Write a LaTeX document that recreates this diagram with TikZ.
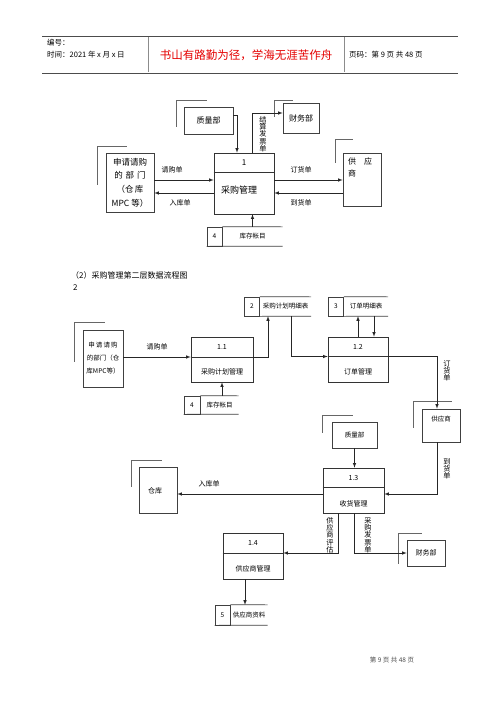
\documentclass[tikz,border=0pt]{standalone}
\usepackage{fontspec}
\setmainfont{Noto Sans CJK SC}
\usetikzlibrary{positioning}
\tikzset{>=latex}
\tikzset{
  ent/.style={draw=black!75, line width=0.6pt, inner sep=0pt, align=center},
  proc/.style={draw=black!80, line width=0.6pt, inner sep=0pt},
  divl/.style={draw=black!80, line width=0.6pt},
  brk/.style={draw=black!60, line width=0.5pt},
  numbox/.style={draw=black!75, line width=0.6pt, inner sep=0pt, minimum width=15, minimum height=19, font=\fontsize{6.5}{7}\selectfont},
  stxt/.style={inner sep=0pt, minimum height=19, font=\fontsize{6.5}{7}\selectfont},
  sline/.style={draw=black!75, line width=0.6pt},
  flow/.style={->, draw=black!85, line width=0.6pt},
  lbl/.style={inner sep=0pt, font=\fontsize{7}{8}\selectfont},
  vlbl/.style={inner sep=0pt, align=center, font=\fontsize{7.2}{7.3}\selectfont},
  hdr/.style={draw=black!70, line width=0.7pt}
}
\begin{document}
\begin{tikzpicture}[x=1pt, y=-1pt]
\fill[white] (0,0) rectangle (500,707);
\useasboundingbox (0,0) rectangle (500,707);

% header
\draw[hdr] (42,36) -- (458,36);
\draw[hdr] (42,73) -- (458,73);
\draw[draw=black!45, line width=0.6pt] (148,37) -- (148,72);
\draw[draw=black!45, line width=0.6pt] (344,37) -- (344,72);
\node[anchor=west, inner sep=0pt, font=\fontsize{7.5}{8}\selectfont] (h1) at (47,43) {编号：};
\node[anchor=west, inner sep=0pt, font=\fontsize{7.5}{8}\selectfont] (h2) at (47,55) {时间：2021 年 x 月 x 日};
\node[inner sep=0pt, text=red!90!black, font=\fontsize{11.5}{12}\selectfont] (h3) at (246,55) {书山有路勤为径，学海无涯苦作舟};
\node[anchor=west, inner sep=0pt, font=\fontsize{7.5}{8}\selectfont] (h4) at (349,55) {页码：第 9 页 共 48 页};

% first level
\node[ent, minimum width=49, minimum height=27, font=\fontsize{8}{9}\selectfont] (qa1) at (208.5,120.5) {质量部};
\draw[brk] ([shift={(-7,20)}]qa1.north west) |- ([shift={(23,-6)}]qa1.north west);
\node[ent, minimum width=36, minimum height=30, font=\fontsize{8}{9}\selectfont] (fin1) at (301,118) {财务部};
\draw[brk] ([shift={(-8,14)}]fin1.north west) |- ([shift={(10,-2)}]fin1.north west);
\node[ent, minimum width=48, minimum height=59, font=\fontsize{8.5}{13.7}\selectfont] (app1) at (130,182.5) {申请请购\\的\,\,部\,\,门\\（仓\,库\\MPC 等）};
\draw[brk] ([shift={(-8,32)}]app1.north west) |- ([shift={(21,-6)}]app1.north west);
\node[ent, minimum width=38, minimum height=53] (sup1) at (362,179.5) {};
\node[anchor=north west, inner sep=0pt, align=left, font=\fontsize{8}{12}\selectfont] (sup1t) at (348,158) {供\hspace{1em}应\\商};
\draw[brk] ([shift={(-7,10)}]sup1.north west) |- ([shift={(10,-13)}]sup1.north west);

\node[proc, minimum width=60, minimum height=61] (p1) at (244,183.5) {};
\draw[divl] (p1.west |- 0,172) -- (p1.east |- 0,172);
\node[inner sep=0pt, font=\fontsize{8}{9}\selectfont] (p1n) at (244,162.5) {1};
\node[inner sep=0pt, font=\fontsize{9}{10}\selectfont] (p1t) at (239,190) {采购管理};

\node[numbox] (s4) at (214.5,236.5) {4};
\node[stxt, minimum width=60, anchor=west] (s4t) at (s4.east) {库存帐目};
\draw[sline] (s4.north east) -- (s4t.north east);
\draw[sline] (s4.south west) -- (s4t.south east);

\draw[flow] ([yshift=2.5]app1.east) -- ([yshift=2.5]app1.east -| p1.west);
\draw[flow] ([yshift=-9.5]p1.west) -- ([yshift=-9.5]p1.west -| app1.east);
\draw[flow] ([yshift=3.5]p1.east) -- ([yshift=3.5]p1.east -| sup1.west);
\draw[flow] ([yshift=-9.5]p1.east -| sup1.west) -- ([yshift=-9.5]p1.east);
\draw[flow] ([yshift=5]qa1.east) -| ([xshift=-7]p1.north);
\draw[flow] ([xshift=8]p1.north) |- ([yshift=5]fin1.west);
\draw[flow] (s4t.north) -- (s4t.north |- p1.south);

\node[lbl] (l1) at (172,170) {请购单};
\node[lbl] (l2) at (180,203) {入库单};
\node[lbl] (l3) at (301,170) {订货单};
\node[lbl] (l4) at (301,203) {到货单};
\node[vlbl] (l5) at (263,134) {结\\算\\发\\票\\单};

% caption
\node[anchor=west, inner sep=0pt, font=\fontsize{8}{9}\selectfont] (cap) at (71,275) {（2）采购管理第二层数据流程图};
\node[anchor=west, inner sep=0pt, font=\fontsize{8}{9}\selectfont] (cap2) at (73,288) {2};

% second level
\node[ent, minimum width=40, minimum height=57, font=\fontsize{6.5}{13}\selectfont] (app2) at (103,358.5) {申\,请\,请\,购\\的部门（仓\\库MPC等）};
\draw[brk] ([shift={(-8,32)}]app2.north west) |- ([shift={(22,-7)}]app2.north west);

\node[proc, minimum width=62, minimum height=45] (p11) at (222,359.5) {};
\draw[divl] (p11.west |- 0,357) -- (p11.east |- 0,357);
\node[inner sep=0pt, font=\fontsize{7}{8}\selectfont] (p11n) at (222,347) {1.1};
\node[inner sep=0pt, font=\fontsize{7}{8}\selectfont] (p11t) at (222,372) {采购计划管理};

\node[proc, minimum width=60, minimum height=45] (p12) at (358,359.5) {};
\draw[divl] (p12.west |- 0,356) -- (p12.east |- 0,356);
\node[inner sep=0pt, font=\fontsize{7}{8}\selectfont] (p12n) at (358,347) {1.2};
\node[inner sep=0pt, font=\fontsize{7}{8}\selectfont] (p12t) at (358,372) {订单管理};

\node[numbox] (s2) at (252,306.5) {2};
\node[stxt, minimum width=51, anchor=west] (s2t) at (s2.east) {采购计划明细表};
\draw[sline] (s2.north east) -- (s2t.north east);
\draw[sline] (s2.south east) -- (s2t.south east);

\node[numbox] (s3) at (336,306.5) {3};
\node[stxt, minimum width=44, anchor=west] (s3t) at (s3.east) {订单明细表};
\draw[sline] (s3.north east) -- (s3t.north east);
\draw[sline] (s3.south east) -- (s3t.south east);

\node[numbox, minimum width=16, minimum height=18] (s4b) at (192,405) {4};
\node[stxt, minimum width=38, minimum height=18, anchor=west] (s4bt) at (s4b.east) {库存帐目};
\draw[sline] (s4b.north east) -- (s4bt.north east);
\draw[sline] (s4b.south west) -- (s4bt.south east);

\node[ent, minimum width=38, minimum height=33] (sup2) at (441,425.5) {};
\node[inner sep=0pt, font=\fontsize{6.5}{7}\selectfont] (sup2t) at (441,419) {供应商};
\draw[brk] ([shift={(-8,19)}]sup2.north west) |- ([shift={(30,-7)}]sup2.north west);

\node[ent, minimum width=45, minimum height=26, font=\fontsize{6.5}{7}\selectfont] (qa2) at (354.5,435) {质量部};
\draw[brk] ([shift={(-9,11)}]qa2.north west) |- ([shift={(21,-6)}]qa2.north west);

\node[proc, minimum width=61, minimum height=45] (p13) at (353.5,490.5) {};
\draw[divl] (p13.west |- 0,487) -- (p13.east |- 0,487);
\node[inner sep=0pt, font=\fontsize{7}{8}\selectfont] (p13n) at (353.5,478) {1.3};
\node[inner sep=0pt, font=\fontsize{7}{8}\selectfont] (p13t) at (353.5,504) {收货管理};

\node[ent, minimum width=38, minimum height=46] (wh) at (158,490) {};
\node[inner sep=0pt, font=\fontsize{7}{8}\selectfont] (wht) at (155,491) {仓库};
\draw[brk] ([shift={(-7,20)}]wh.north west) |- ([shift={(23,-6)}]wh.north west);

\node[ent, minimum width=38, minimum height=26, font=\fontsize{7}{8}\selectfont] (fin2) at (426,553) {财务部};
\draw[brk] ([shift={(-8,24)}]fin2.north west) |- ([shift={(15,-6)}]fin2.north west);

\node[proc, minimum width=60, minimum height=46] (p14) at (253,556) {};
\draw[divl] (p14.west |- 0,553) -- (p14.east |- 0,553);
\node[inner sep=0pt, font=\fontsize{7}{8}\selectfont] (p14n) at (253,543) {1.4};
\node[inner sep=0pt, font=\fontsize{7}{8}\selectfont] (p14t) at (253,569) {供应商管理};

\node[numbox, minimum height=20] (s5) at (222.5,615) {5};
\node[stxt, minimum width=37, minimum height=20, anchor=west] (s5t) at (s5.east) {供应商资料};
\draw[sline] (s5.north east) -- (s5t.north east);
\draw[sline] (s5.south west) -- (s5t.south east);

\draw[flow] ([yshift=1.5]app2.east) -- ([yshift=1.5]app2.east -| p11.west);
\draw[flow] ([yshift=2.5]p11.east) -| ([xshift=-17.5]s2t.south);
\draw[flow] ([xshift=5.5]s2t.south) |- ([yshift=3]p12.west);
\draw[flow] (p12.north) -- (p12.north |- s3t.south);
\draw[flow] ([xshift=8]s3t.south) -- ([xshift=8]s3t.south |- p12.north);
\draw[flow] (p11.south |- s4bt.north) -- (p11.south);
\draw[flow] ([yshift=3.5]p12.east) -| ([xshift=-4]sup2.north);
\draw[flow] ([xshift=-4]sup2.south) |- ([yshift=-3.5]p13.east);
\draw[flow] ([yshift=-3.5]p13.west) -- ([yshift=-3.5]p13.west -| wh.east);
\draw[flow] (qa2.south) -- (qa2.south |- p13.north);
\draw[flow] ([xshift=-15.5]p13.south) |- ([yshift=3]p14.east);
\draw[flow] ([xshift=0.5]p13.south) |- (fin2.west);
\draw[flow] ([xshift=-8]p14.south) -- ([xshift=-8]p14.south |- s5t.north);

\node[lbl] (m1) at (157,347) {请购单};
\node[vlbl] (m2) at (447,371) {订\\货\\单};
\node[vlbl] (m3) at (447,469) {到\\货\\单};
\node[lbl] (m4) at (209,484) {入库单};
\node[vlbl] (m5) at (330,535) {供\\应\\商\\评\\估};
\node[vlbl] (m6) at (368,535) {采\\购\\发\\票\\单};

% footer
\node[inner sep=0pt, text=black!70, font=\fontsize{6.5}{7}\selectfont] (ft) at (392,660) {第 9 页 共 48 页};
\end{tikzpicture}
\end{document}
